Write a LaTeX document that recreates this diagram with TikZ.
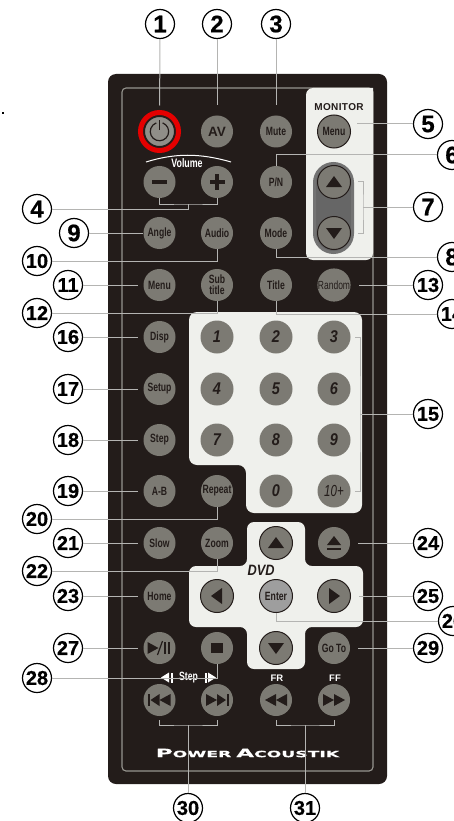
\documentclass[tikz,border=0pt]{standalone}
\usepackage{fontspec}
\setmainfont{Liberation Sans}
\newfontfamily\nf[FakeStretch=0.72]{Liberation Sans}
\newfontfamily\numf[FakeStretch=0.85]{Liberation Sans}
\newfontfamily\cf[FakeBold=0.5]{Liberation Sans}
\newfontfamily\lf[FakeStretch=2.0,FakeBold=0.6]{DejaVu Sans}
\newfontfamily\mf[LetterSpace=4]{Liberation Sans}
\definecolor{body}{HTML}{231C1A}
\definecolor{panel}{HTML}{EFF0EC}
\definecolor{btn}{HTML}{7C7A73}
\definecolor{conn}{HTML}{B4B4B2}
\tikzset{
  x=1pt,y=-1pt,
  connector/.style={draw=conn,line width=1pt},
  btnbase/.style={circle,fill=btn,minimum size=32pt,inner sep=0pt,align=center,text=body},
  plainb/.style={btnbase,font=\nf\bfseries\fontsize{12}{11}\selectfont},
  numb/.style={btnbase,font=\numf\bfseries\itshape\fontsize{17}{17}\selectfont},
  ringb/.style={btnbase,draw=body,line width=1pt,minimum size=33pt},
  callout/.style={circle,draw=black,fill=white,line width=1.2pt,minimum size=29pt,inner sep=0pt,text=black,font=\cf\bfseries\fontsize{20}{20}\selectfont},
  callbig/.style={callout,font=\cf\bfseries\fontsize{24}{24}\selectfont},
  icon/.style={fill=body},
  whitetxt/.style={text=white,inner sep=0pt},
  tup/.pic={\fill[icon] (-8,5)--(8,5)--(0,-6)--cycle;},
  tdown/.pic={\fill[icon] (-8,-5)--(8,-5)--(0,6)--cycle;},
  tleft/.pic={\fill[icon] (5,-8)--(5,8)--(-6,0)--cycle;},
  tright/.pic={\fill[icon] (-5,-8)--(-5,8)--(6,0)--cycle;},
  powericon/.pic={\draw[body,line width=1.2pt] (3.1,-8.6) arc[start angle=-70,delta angle=320,radius=9.2];
     \draw[body,line width=1.2pt] (0,-11)--(0,-1);},
  ejecticon/.pic={\fill[icon] (-7,2)--(7,2)--(0,-7)--cycle; \fill[icon] (-7,5) rectangle (7,7);},
  stopicon/.pic={\fill[icon] (-6,-5) rectangle (6,5);},
  playicon/.pic={\fill[icon] (-12,-6)--(-12,6)--(-1,0)--cycle;
     \draw[body,line width=1.2pt] (-2,7)--(3,-7);
     \fill[icon] (4,-6) rectangle (6.5,6); \fill[icon] (8,-6) rectangle (10.5,6);},
  previcon/.pic={\fill[icon] (-12,-6) rectangle (-10,6); \fill[icon] (-9,0)--(0,-6)--(0,6)--cycle; \fill[icon] (0,0)--(11,-6)--(11,6)--cycle;},
  nexticon/.pic={\fill[icon] (12,-6) rectangle (10,6); \fill[icon] (9,0)--(0,-6)--(0,6)--cycle; \fill[icon] (0,0)--(-11,-6)--(-11,6)--cycle;},
  rewicon/.pic={\fill[icon] (-11,0)--(0,-6)--(0,6)--cycle; \fill[icon] (0,0)--(11,-6)--(11,6)--cycle;},
  ffwicon/.pic={\fill[icon] (11,0)--(0,-6)--(0,6)--cycle; \fill[icon] (0,0)--(-11,-6)--(-11,6)--cycle;},
  minusicon/.pic={\fill[icon] (-7.5,-1.6) rectangle (7.5,1.6);},
  plusicon/.pic={\fill[icon] (-7.5,-1.6) rectangle (7.5,1.6); \fill[icon] (-1.6,-7.5) rectangle (1.6,7.5);},
}
\begin{document}
\begin{tikzpicture}
\useasboundingbox (0,0) rectangle (453,821);
\fill[black] (1.5,112) rectangle (4,114.5);
% body
\fill[body,rounded corners=8] (108,74) rectangle (387,784);
\draw[btn!80!white,line width=1.1pt,rounded corners=4] (122,88) rectangle (373,771);
% panels
\fill[panel,rounded corners=7] (306,88)[sharp corners]--(373,88)--(373,252)[rounded corners=7]--(373,260)--(306,260)--cycle;
\fill[panel,rounded corners=8] (189,312)--(362,312)--(362,513)--(246,513)--(246,465)--(189,465)--cycle;
\fill[panel,rounded corners=7] (247,522)--(305,522)--(305,566)--(363,566)--(363,627)--(305,627)--(305,669)--(247,669)--(247,627)--(189,627)--(189,566)--(247,566)--cycle;
\draw[draw=black!55,fill=black!60,line width=3pt,rounded corners=19] (314.5,163.5) rectangle (352.5,252.5);
% red ring
\draw[red!90!black,line width=5pt] (159.5,131.5) circle[radius=19];
% buttons
\node[btnbase,draw=body,line width=1pt,fill=btn!85!white,minimum size=30pt] (bPower) at (159.5,131.5) {};
\foreach \n/\x/\y/\t in {
 bMute/276/131.5/Mute, bPN/276/182/{P/N}, bAngle/159.5/233/Angle, bAudio/217/233/Audio, bMode/276/233/Mode,
 bMenu/159.5/285/Menu, bSub/217/285/{Sub\\title}, bTitle/276/285/Title,
 bDisp/159.5/337/Disp, bSetup/159.5/389/Setup, bStep/159.5/440/Step, bAB/159.5/491/A-B, bRepeat/217/491/Repeat,
 bSlow/159.5/543/Slow, bZoom/217/543/Zoom, bHome/159.5/596/Home, bGoto/334/648/{Go To}}
 {\node[plainb] (\n) at (\x,\y) {\t};}
\node[btnbase,font=\bfseries\fontsize{13.5}{13}\selectfont] (bAV) at (217,131.5) {AV};
\node[plainb,minimum size=33pt,font=\nf\fontsize{11.8}{10}\selectfont] (bRandom) at (334,285) {Random};
\node[ringb,font=\nf\bfseries\fontsize{12}{11}\selectfont] (bMon) at (334,131.5) {Menu};
\node[font=\mf\bfseries\fontsize{10}{10}\selectfont,text=body,inner sep=0pt] (tMon) at (339,107) {MONITOR};
\foreach \n/\x/\y/\t in {
 n1/217/337/1, n2/276/337/2, n3/334/337/3, n4/217/389/4, n5/276/389/5, n6/334/389/6,
 n7/217/440/7, n8/276/440/8, n9/334/440/9, n0/276/491/0}
 {\node[numb,minimum size=33pt] (\n) at (\x,\y) {\t};}
\node[numb,minimum size=33pt,font=\nf\itshape\fontsize{16}{16}\selectfont] (n10) at (334,491) {10+};
% icon buttons
\foreach \n/\x/\y/\p in {
 bMinus/159.5/182/minusicon, bPlus/217/182/plusicon, bEject/334/543/ejecticon, bPlay/159.5/648/playicon,
 bStop/217/648/stopicon, bPrev/159.5/700/previcon, bNext/217/700/nexticon, bRew/276/700/rewicon, bFf/334/700/ffwicon}
 {\node[btnbase] (\n) at (\x,\y) {}; \pic at (\n) {\p};}
\foreach \n/\x/\y/\p in {
 bUp/334/182/tup, bDown/334/233/tdown, dUp/276/543/tup, dDown/276/648/tdown, dLeft/217/596/tleft, dRight/334/596/tright}
 {\node[ringb] (\n) at (\x,\y) {}; \pic at (\n) {\p};}
\node[ringb,fill=black!38,font=\nf\bfseries\fontsize{12}{11}\selectfont] (bEnter) at (276,596) {Enter};
\pic at (bPower) {powericon};
% printed texts
\node[whitetxt,font=\nf\bfseries\fontsize{12.3}{12}\selectfont] (tVol) at (187,163) {Volume};
\draw[white,line width=1pt] (146,162) .. controls (175,153) and (200,153) .. (231,162);
\node[font=\numf\bfseries\itshape\fontsize{15}{15}\selectfont,text=body,inner sep=0pt] (tDvd) at (261,570) {DVD};
\node[whitetxt,font=\bfseries\fontsize{9.5}{10}\selectfont] (tFr) at (277,678) {FR};
\node[whitetxt,font=\bfseries\fontsize{9.5}{10}\selectfont] (tFf) at (335,678) {FF};
\node[whitetxt,font=\nf\bfseries\fontsize{12}{12}\selectfont] (tStep) at (188.5,677.5) {Step};
\fill[white] (161,677.5)--(169,672.5)--(169,682.5)--cycle;
\fill[white] (170.5,672.5) rectangle (172.5,682.5);
\fill[white] (216,677.5)--(208,672.5)--(208,682.5)--cycle;
\fill[white] (204.5,672.5) rectangle (206.5,682.5);
\node[whitetxt,font=\lf\bfseries\fontsize{8.6}{9}\selectfont] (tLogo) at (247.5,753) {{\fontsize{11.5}{9}\selectfont P}OWER\hspace{5pt}{\fontsize{11.5}{9}\selectfont A}COUSTIK};
% callouts
\foreach \n/\x/\y/\t in {c1/160/24/1, c2/217/24/2, c3/276/24/3, c5/428/124/5, c6/452/155/6, c7/428/207/7, c8/452/257/8,
 c4/37/209/4, c9/74/233/9}
 {\node[callbig] (\n) at (\x,\y) {\t};}
\foreach \n/\x/\y/\t in {c13/428/285/13, c14/452/314/14, c15/428/414/15, c24/428/543/24, c25/428/596/25, c26/453/621/26, c29/428/648/29,
 c10/37/261/10, c11/68/285/11, c12/37/313/12, c16/68/337/16, c17/68/389/17, c18/68/440/18, c19/68/491/19,
 c20/37/519/20, c21/68/543/21, c22/37/571/22, c23/68/596/23, c27/68/648/27, c28/37/678/28, c30/188/808/30, c31/305/808/31}
 {\node[callout] (\n) at (\x,\y) {\t};}
% free ends
\coordinate (e5) at (357,124);
\coordinate (j4) at (188,204);
\coordinate (t7) at (358,182); \coordinate (j7) at (363,207); \coordinate (b7) at (358,233);
\coordinate (t15) at (355,337); \coordinate (j15) at (360,414); \coordinate (b15) at (355,491);
\coordinate (j30) at (188,725); \coordinate (j31) at (305,725);
% connectors
\foreach \c/\b in {c1/bPower,c2/bAV,c3/bMute}
  \draw[connector,shorten >=10.5pt] (\c) -- (\b);
\draw[connector] (c5) -- (e5);
\draw[connector] (c6) -| (bPN);
\draw[connector] (t7) -| (j7) |- (b7);
\draw[connector] (c7) -- (j7);
\draw[connector] (c8) -| (bMode);
\draw[connector] (bMinus) |- (j4) -| (bPlus);
\draw[connector] (c4) -| (j4);
\draw[connector] (c9) -- (bAngle);
\draw[connector] (c10) -| (bAudio);
\draw[connector] (c12) -| (bSub);
\draw[connector] (c14) -| (bTitle);
\foreach \c/\b in {c11/bMenu,c16/bDisp,c17/bSetup,c18/bStep,c19/bAB,c21/bSlow,c23/bHome,c27/bPlay}
  \draw[connector,shorten >=5pt] (\c) -- (\b);
\foreach \c/\b in {c13/bRandom,c24/bEject,c25/dRight,c29/bGoto}
  \draw[connector,shorten >=8pt] (\c) -- (\b);
\draw[connector] (t15) -| (j15) |- (b15);
\draw[connector] (c15) -- (j15);
\draw[connector] (c20) -| (bRepeat);
\draw[connector] (c22) -| (bZoom);
\draw[connector] (c26) -| (bEnter);
\draw[connector] (c28) -| (bStop);
\draw[connector,shorten <=4pt,shorten >=4pt] (bPrev) |- (j30) -| (bNext);
\draw[connector] (c30) -- (j30);
\draw[connector,shorten <=4pt,shorten >=4pt] (bRew) |- (j31) -| (bFf);
\draw[connector] (c31) -- (j31);
\end{tikzpicture}
\end{document}
